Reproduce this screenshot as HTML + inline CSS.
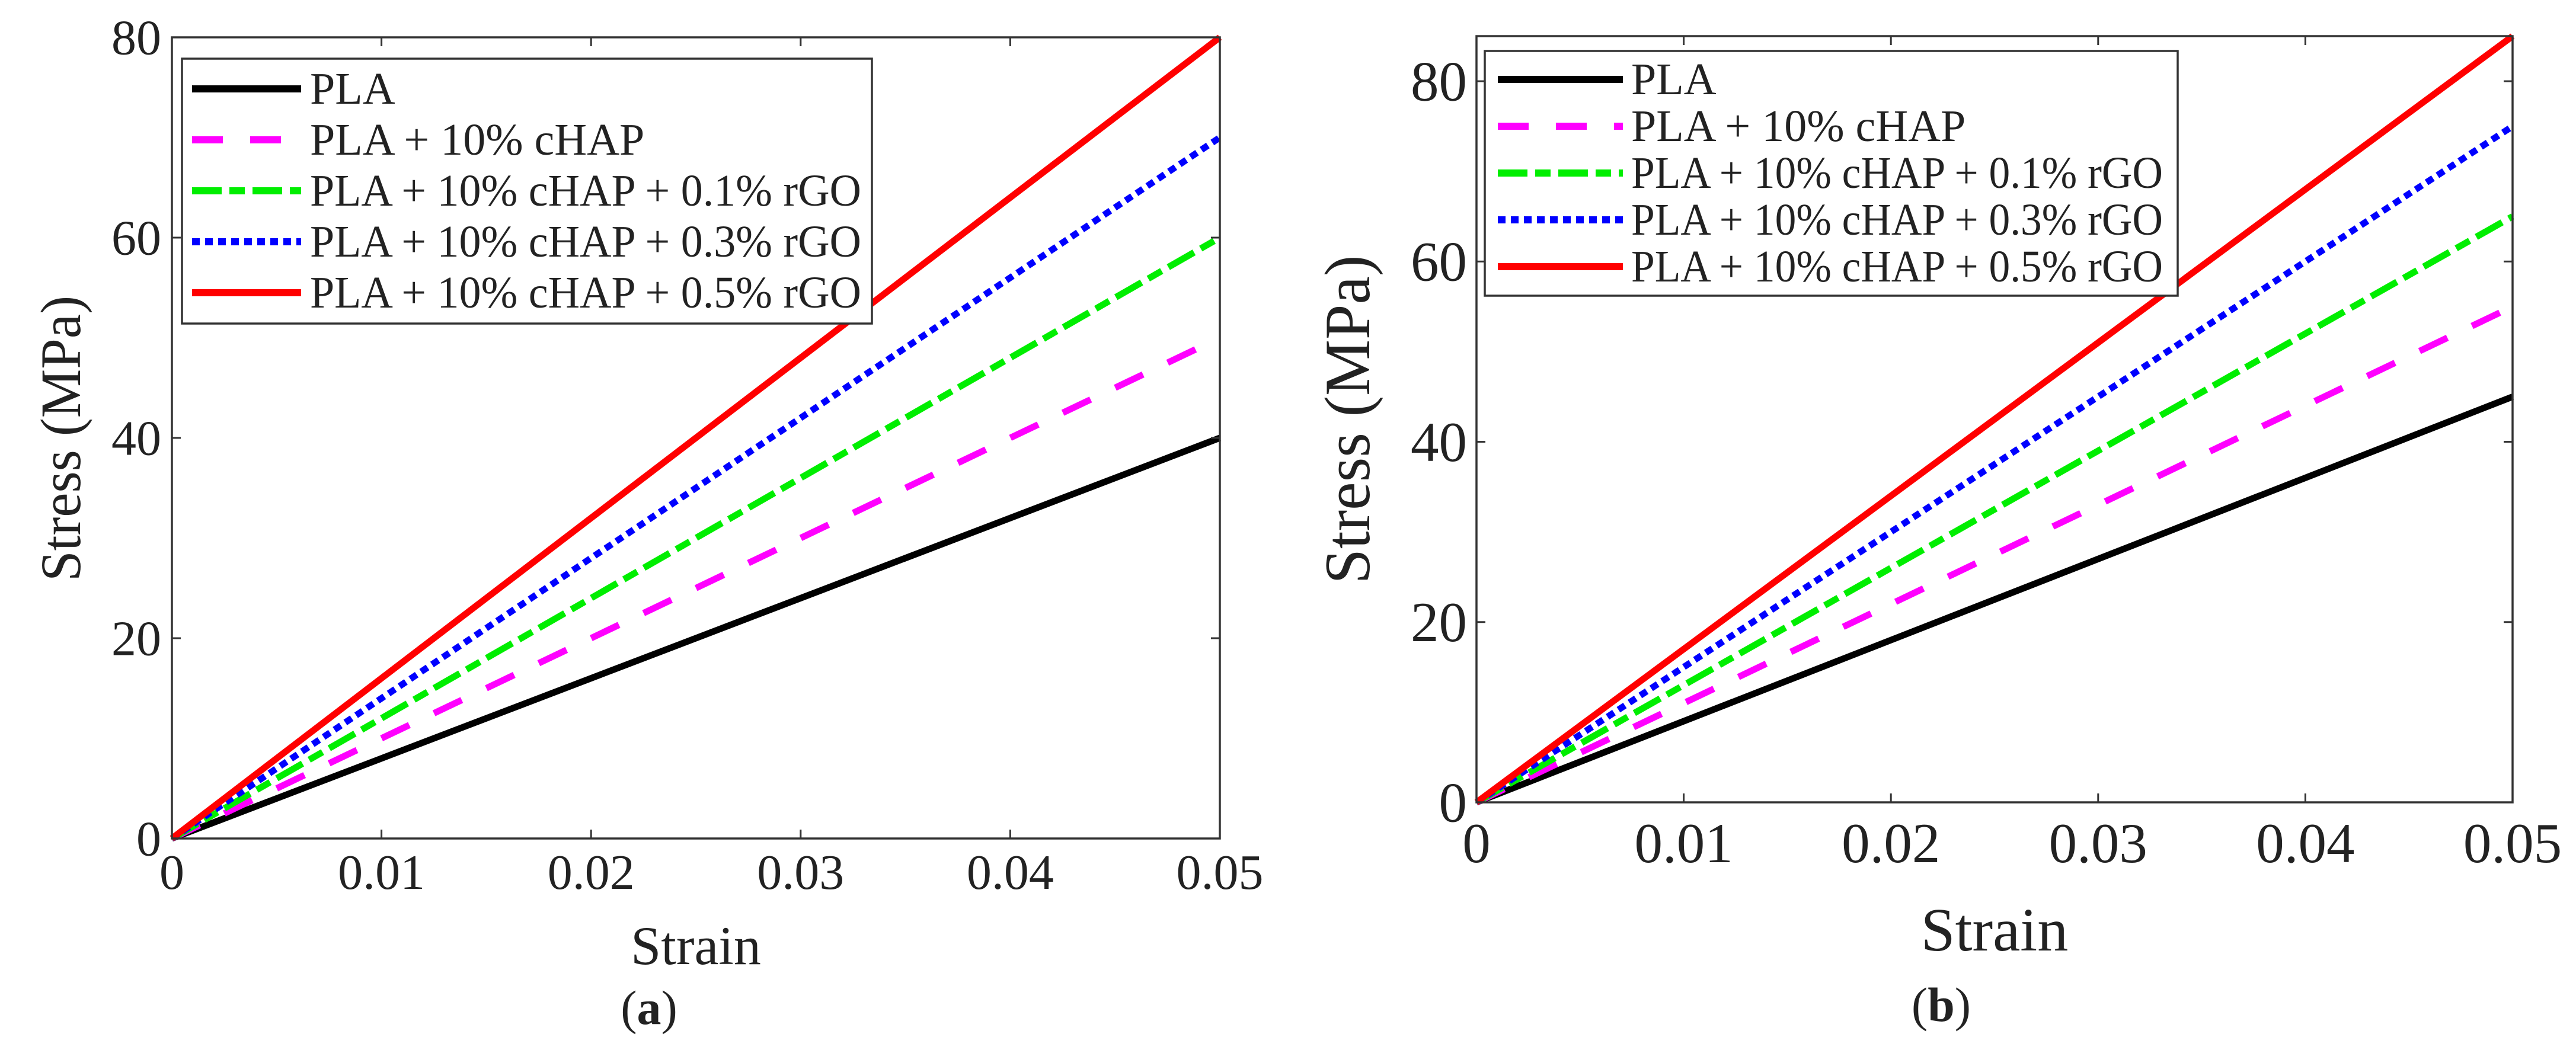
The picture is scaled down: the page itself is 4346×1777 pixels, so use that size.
<!DOCTYPE html>
<html><head><meta charset="utf-8">
<style>
html,body{margin:0;padding:0;background:#fff;}
svg{display:block;}
svg text{font-family:"Liberation Serif","DejaVu Serif","Times New Roman",Times,serif !important;fill:#222;}
</style></head>
<body>
<svg id="fig" width="4346" height="1777" viewBox="0 0 4346 1777" xmlns="http://www.w3.org/2000/svg" font-family="Liberation Serif, DejaVu Serif, serif"></svg>
<script>
const seriesNames = ["PLA","PLA + 10% cHAP","PLA + 10% cHAP + 0.1% rGO","PLA + 10% cHAP + 0.3% rGO","PLA + 10% cHAP + 0.5% rGO"];
const strainPts = [0, 0.05];
const stressA_PLA = [0, 40];
const stressA_cHAP = [0, 50];
const stressA_rGO01 = [0, 60];
const stressA_rGO03 = [0, 70];
const stressA_rGO05 = [0, 80];
const stressB_PLA = [0, 45];
const stressB_cHAP = [0, 55];
const stressB_rGO01 = [0, 65];
const stressB_rGO03 = [0, 75];
const stressB_rGO05 = [0, 85];
const xTicks = [0, 0.01, 0.02, 0.03, 0.04, 0.05];
const xTickLabels = ["0","0.01","0.02","0.03","0.04","0.05"];
const yTicks = [0, 20, 40, 60, 80];
const yTickLabels = ["0","20","40","60","80"];

const NS = "http://www.w3.org/2000/svg";
const svg = document.getElementById('fig');
const FONT = '"Liberation Serif", "DejaVu Serif", "Times New Roman", serif';
function mk(tag, attrs, parent){
  const e = document.createElementNS(NS, tag);
  for (const k in attrs) e.setAttribute(k, attrs[k]);
  if (tag === 'text') e.setAttribute('font-family', FONT);
  (parent||svg).appendChild(e);
  return e;
}
const styles = [
  {color:"#000000", dash:"none"},
  {color:"#ff00ff", dash:"52 46"},
  {color:"#00ee00", dash:"50 13 26 13"},
  {color:"#0000ff", dash:"13 9"},
  {color:"#ff0000", dash:"none"}
];

function panel(cfg){
  const g = mk('g', {});
  
  
  const X = v => cfg.x0 + (v - 0) / 0.05 * (cfg.x1 - cfg.x0);
  const Y = v => cfg.y0 - v / cfg.ymax * (cfg.y0 - cfg.yTop);
  cfg.series.forEach((arr, i) => {
    let d = "";
    arr.forEach((v, j) => { d += (j ? "L" : "M") + X(strainPts[j]) + "," + Y(v); });
    const p = mk('path', {d:d, fill:"none", stroke:styles[i].color, "stroke-width":11, "stroke-dasharray":styles[i].dash, "stroke-linecap":"butt"}, g);
    
    
  });
  const box = mk('rect', {x:cfg.x0, y:cfg.yTop, width:cfg.x1-cfg.x0, height:cfg.y0-cfg.yTop, fill:"none", stroke:"#333", "stroke-width":3.5}, g);
  
  
  xTicks.forEach((t, i) => {
    const x = X(t);
    mk('line', {x1:x, y1:cfg.y0, x2:x, y2:cfg.y0-15, stroke:"#333", "stroke-width":3}, g);
    mk('line', {x1:x, y1:cfg.yTop, x2:x, y2:cfg.yTop+15, stroke:"#333", "stroke-width":3}, g);
    const tx = mk('text', {x:x, y:cfg.xLabY, "font-size":cfg.tickFs, "text-anchor":"middle"}, g);
    tx.textContent = xTickLabels[i];
    
    
  });
  yTicks.forEach((t, i) => {
    const y = Y(t);
    mk('line', {x1:cfg.x0, y1:y, x2:cfg.x0+15, y2:y, stroke:"#333", "stroke-width":3}, g);
    mk('line', {x1:cfg.x1, y1:y, x2:cfg.x1-15, y2:y, stroke:"#333", "stroke-width":3}, g);
    const tx = mk('text', {x:cfg.yLabX, y:y + cfg.tickFs*0.34, "font-size":cfg.tickFs, "text-anchor":"end"}, g);
    tx.textContent = yTickLabels[i];
    
    
  });
  const xt = mk('text', {x:(cfg.x0+cfg.x1)/2, y:cfg.xTitleY, "font-size":cfg.titleFs, "text-anchor":"middle"}, g);
  xt.textContent = "Strain";
  
  
  const yt = mk('text', {x:0, y:0, "font-size":cfg.titleFs*1.05, "text-anchor":"middle", textLength:cfg.yTitleLen, lengthAdjust:"spacingAndGlyphs", transform:"translate("+cfg.yTitleX+","+cfg.yTitleY+") rotate(-90)"}, g);
  yt.textContent = "Stress (MPa)";
  
  
  const cap = mk('text', {x:cfg.capX, y:cfg.capY, "font-size":82, "text-anchor":"middle"}, g);
  cap.innerHTML = '(<tspan font-weight="bold">' + cfg.capLetter + '</tspan>)';
  
  
  const L = cfg.leg;
  const lg = mk('g', {}, g);
  
  
  mk('rect', {x:L.x, y:L.y, width:L.w, height:L.h, fill:"#fff", stroke:"#333", "stroke-width":3.5}, lg);
  seriesNames.forEach((n, i) => {
    const ry = L.row0 + i*L.dy;
    const ln = mk('line', {x1:L.sx1, y1:ry, x2:L.sx2, y2:ry, stroke:styles[i].color, "stroke-width":12, "stroke-dasharray":styles[i].dash}, lg);
    
    
    const t = mk('text', {x:L.tx, y:ry + L.fs*0.33, "font-size":L.fs, fill:"#111"}, lg);
    if (i >= 2) { t.setAttribute('textLength', L.tw); t.setAttribute('lengthAdjust', 'spacingAndGlyphs'); }
    t.textContent = n;
    
    
  });
}

panel({id:"panel-a", x0:290, x1:2058, y0:1415, yTop:63, ymax:80,
  series:[stressA_PLA, stressA_cHAP, stressA_rGO01, stressA_rGO03, stressA_rGO05],
  tickFs:84, xLabY:1500, yLabX:272, titleFs:92, xTitleY:1627,
  yTitleX:135, yTitleY:740, yTitleLen:482, capX:1095, capY:1728, capLetter:"a",
  leg:{x:307, y:99, w:1164, h:447, row0:150, dy:86, sx1:324, sx2:508, tx:523, fs:76, tw:930}});
panel({id:"panel-b", x0:2491, x1:4239, y0:1354, yTop:61, ymax:85,
  series:[stressB_PLA, stressB_cHAP, stressB_rGO01, stressB_rGO03, stressB_rGO05],
  tickFs:95, xLabY:1455, yLabX:2475, titleFs:104, xTitleY:1604,
  yTitleX:2310, yTitleY:708, yTitleLen:555, capX:3275, capY:1723, capLetter:"b",
  leg:{x:2505, y:86, w:1169, h:413, row0:134, dy:79, sx1:2527, sx2:2738, tx:2752, fs:76, tw:897}});
</script>
</body></html>
